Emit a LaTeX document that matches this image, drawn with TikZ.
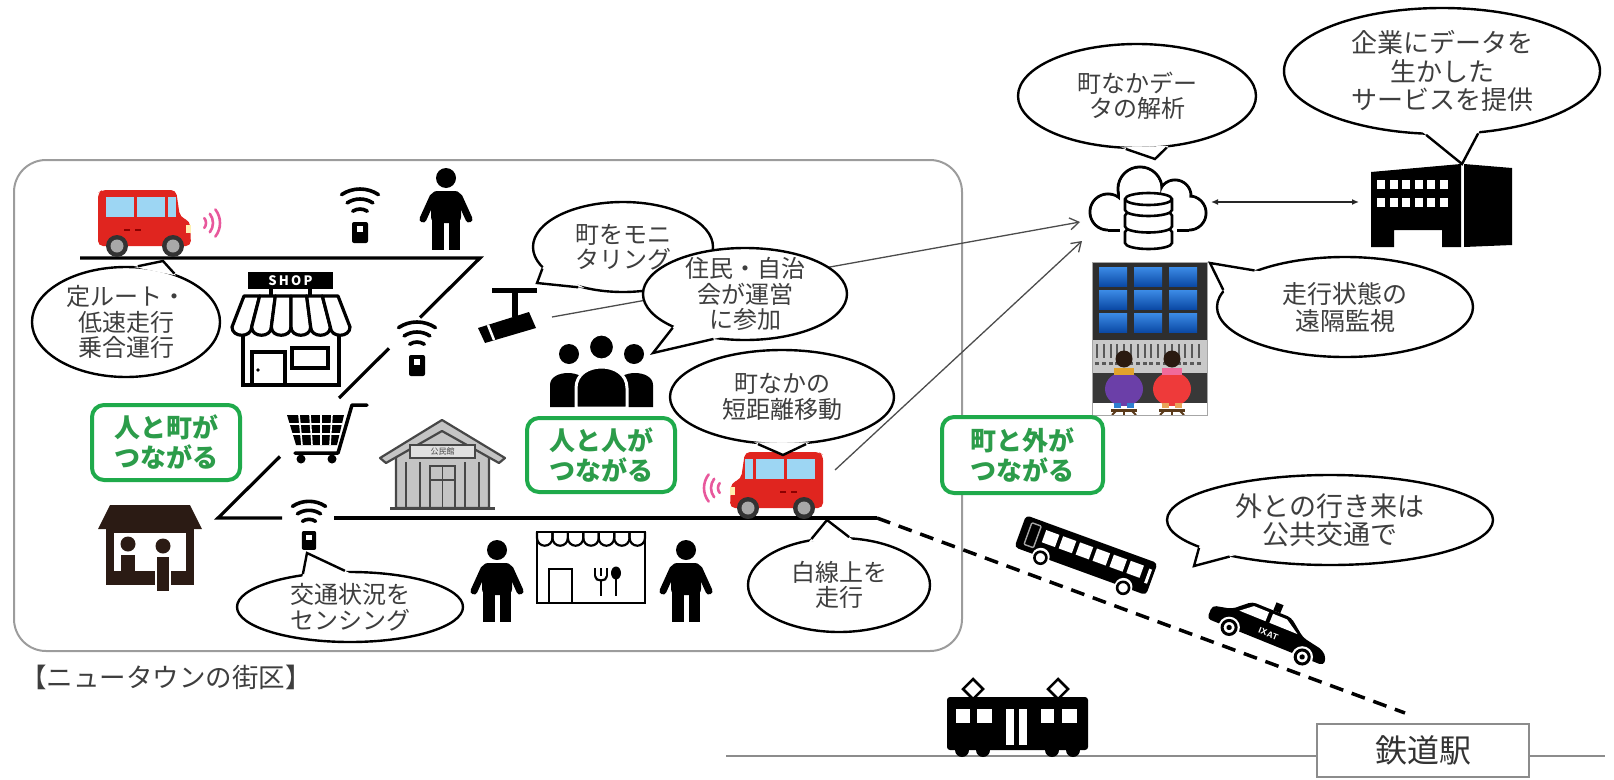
\documentclass[tikz,border=0pt]{standalone}
\usepackage{fontspec}
\newfontfamily\jp{Noto Sans CJK JP}
\usetikzlibrary{shapes.geometric,calc,arrows.meta}

\definecolor{vanred}{HTML}{E0251F}
\definecolor{winblue}{HTML}{9DD6F3}
\definecolor{headlamp}{HTML}{FFF0B0}
\definecolor{wheeldark}{HTML}{333333}
\definecolor{wheelgray}{HTML}{A8A8A8}
\definecolor{wavepink}{HTML}{E8589C}
\definecolor{framegray}{HTML}{9C9C9C}
\definecolor{txt}{HTML}{3E3E3E}
\definecolor{tgreen}{HTML}{1FAA4B}
\definecolor{tgreentext}{HTML}{2C9C4A}
\definecolor{hallgray}{HTML}{C4C4C4}
\definecolor{halldark}{HTML}{474747}
\definecolor{housebrown}{HTML}{2B1B14}
\definecolor{panel}{HTML}{2E2E2E}
\definecolor{scrtop}{HTML}{3C8BE6}
\definecolor{scrbot}{HTML}{0B4AA6}
\definecolor{console}{HTML}{C9C9C9}
\definecolor{opurple}{HTML}{6B3FA8}
\definecolor{ored}{HTML}{EE3A3A}
\definecolor{hair}{HTML}{2A1A10}
\definecolor{collarA}{HTML}{E2A22C}
\definecolor{collarB}{HTML}{F06A9A}
\definecolor{legblue}{HTML}{2F7FD0}
\definecolor{legtan}{HTML}{E8A55A}
\definecolor{stoolbrown}{HTML}{5A3A1A}
\definecolor{railgray}{HTML}{8C8C8C}

% speech-bubble tail: node, two border angles, tip coordinate
\newcommand\calloutTail[4]{%
  \fill[white] ($(#4)!1.15!(#1.#2)$) -- (#4) -- ($(#4)!1.15!(#1.#3)$) -- cycle;
  \draw[tailline] (#1.#2) -- (#4) -- (#1.#3);
}

\tikzset{
  road/.style={line width=3.2pt, line join=miter},
  feed/.style={draw=black!70, line width=1.3pt, -{Straight Barb[length=9pt,width=12pt]}},
  bubble/.style={ellipse, draw=black, fill=white, line width=2.4pt, inner sep=-12pt,
    align=center, text=txt, font=\jp\fontsize{24}{25.5}\selectfont},
  tailline/.style={line width=2.4pt, line join=miter},
  tag/.style={rectangle, rounded corners=12pt, draw=tgreen, line width=4pt, fill=white,
    inner sep=0pt, align=center, text=tgreentext, font=\jp\bfseries\fontsize{26}{30}\selectfont},
  % small red minibus, facing right, origin at top-left
  minivan/.pic={
    \fill[vanred, rounded corners=5pt] (0,56) -- (0,3) -- (4,0) -- (78,0) -- (82,27) -- (92,31) -- (93,56) -- cycle;
    \fill[winblue] (8,7) rectangle (36,27);
    \fill[winblue] (39,7) rectangle (67,27);
    \fill[winblue] (70,7) rectangle (78,27);
    \fill[headlamp] (88,35) rectangle (93,43);
    \draw[red!55!black, line width=1.2pt] (26,40) -- (32,40) (37,40) -- (43,40);
    \foreach \w in {19,75} {
      \fill[wheeldark] (\w,56) circle (11);
      \fill[wheelgray] (\w,56) circle (6.5);
    }
  },
  signalwaves/.pic={
    \foreach \rad in {8,15,22}
      \draw[wavepink, line width=2.6pt, line cap=round] (38:\rad) arc[start angle=38, end angle=-38, radius=\rad];
  },
  % roadside sensor, origin at top centre of its box
  wifiunit/.pic={
    \foreach \rad in {13,23,33}
      \draw[line width=3.6pt, line cap=round] (-124:\rad) arc[start angle=-124, end angle=-56, radius=\rad];
    \fill[rounded corners=2pt] (-8,0) rectangle (8,21);
    \fill[white] (-3,4) rectangle (3,10);
  },
  % pedestrian, origin at top of head
  walker/.pic={
    \fill (0,10) circle (10);
    \fill[rounded corners=6pt] (-15,23) rectangle (15,55);
    \draw[line width=7pt, line cap=round] (-13,29) -- (-23,51);
    \draw[line width=7pt, line cap=round] (13,29) -- (23,51);
    \fill (-14,50) rectangle (-2.5,82);
    \fill (2.5,50) rectangle (14,82);
  },
  shopfront/.pic={
    \fill (18,2) rectangle (103,19);
    \node[text=white, font=\jp\bfseries\fontsize{13}{13}\selectfont, inner sep=0pt] (-sign) at (60.5,10.5) {S\,H\,O\,P};
    \fill (39,19) rectangle (43,27);
    \fill (78,19) rectangle (82,27);
    \foreach \i in {0,...,5} {
      \pgfmathsetmacro\tl{14+\i*15.667}
      \pgfmathsetmacro\tr{14+(\i+1)*15.667}
      \pgfmathsetmacro\bl{2+\i*19.667}
      \pgfmathsetmacro\br{2+(\i+1)*19.667}
      \draw[line width=3.2pt, line join=round, fill=white] (\tl,26) -- (\bl,57) .. controls (\bl,68) and (\br,68) .. (\br,57) -- (\tr,26) -- cycle;
    }
    \draw[line width=3.2pt] (13,66) -- (13,115) -- (109,115) -- (109,66);
    \draw[line width=3.2pt] (22,115) -- (22,82) -- (55,82) -- (55,115);
    \fill (28,100) circle (1.8);
    \draw[line width=3.2pt] (62,78) rectangle (98,98);
  },
  cctv/.pic={
    \fill (17,0) rectangle (62,5);
    \fill (37,4) rectangle (43,29);
    \fill (3,40) -- (54,24) -- (61,40) -- (10,55) -- cycle;
    \draw[white, line width=2.5pt] (13,37) -- (19,52);
  },
  crowd/.pic={
    \fill (19,21) circle (10);
    \fill (84,21) circle (10);
    \fill (0,74) -- (0,52) .. controls (0,36) and (36,36) .. (36,52) -- (36,74) -- cycle;
    \fill (67,74) -- (67,52) .. controls (67,36) and (103,36) .. (103,52) -- (103,74) -- cycle;
    \filldraw[draw=white, line width=3pt] (26,75) -- (26,55) .. controls (26,27) and (77,27) .. (77,55) -- (77,75) -- cycle;
    \filldraw[draw=white, line width=3pt] (51.5,14) circle (13);
  },
  trolley/.pic={
    \fill (0,12) -- (57,12) -- (50,42) -- (9,42) -- cycle;
    \draw[white, line width=1.6pt] (2,21) -- (55,21) (4,31) -- (53,31) (12,12) -- (15,42) (23,12) -- (25,42) (34,12) -- (34,42) (45,12) -- (43,42);
    \draw[line width=3.5pt, line cap=round, line join=round] (80,2) -- (65,2) -- (51,50) -- (8,50);
    \fill (14,56) circle (4.5);
    \fill (45,56) circle (4.5);
  },
  hallbldg/.pic={
    \filldraw[fill=hallgray, draw=halldark, line width=2.2pt, line join=round] (16,90) -- (16,38) -- (62,12) -- (109,38) -- (109,90) -- cycle;
    \filldraw[fill=hallgray, draw=halldark, line width=2.2pt, line join=round] (0,40) -- (62,2) -- (125,40) -- (119,45) -- (62,13) -- (6,45) -- cycle;
    \filldraw[fill=black!12, draw=halldark, line width=1.5pt] (30,27) rectangle (95,40);
    \node[text=halldark, font=\jp\fontsize{8}{8}\selectfont, inner sep=0pt] (-sign) at (62.5,33.5) {公民館};
    \foreach \x in {26,40,85,99} \draw[halldark, line width=1.6pt] (\x,44) -- (\x,90);
    \draw[halldark, line width=1.6pt] (50,48) rectangle (75,90);
    \draw[halldark, line width=1.4pt] (62.5,48) -- (62.5,90) (50,62) -- (75,62);
    \draw[halldark, line width=3pt] (10,90) -- (115,90);
  },
  stallhouse/.pic={
    \fill[housebrown] (12,0) -- (92,0) -- (104,24) -- (0,24) -- cycle;
    \fill[housebrown] (8,24) rectangle (96,80);
    \fill[white] (16,28) rectangle (88,66);
    \fill[housebrown] (30,39) circle (7.5);
    \fill[housebrown] (65,41) circle (7.5);
    \fill[housebrown] (23,50) rectangle (37,66);
    \filldraw[fill=housebrown, draw=white, line width=2pt] (58,51) rectangle (72,87);
  },
  eatery/.pic={
    \draw[line width=2.6pt] (0,0) rectangle (108,71);
    \foreach \i in {0,...,6}
      \draw[line width=2.2pt] ({\i*15.43},0) -- ({\i*15.43},6) arc[start angle=180, end angle=0, radius=7.715] -- ({(\i+1)*15.43},0);
    \draw[line width=2.6pt] (12,71) -- (12,37) -- (35,37) -- (35,71);
    \draw[line width=2.2pt] (58,36) -- (58,44) (64,36) -- (64,44) (70,36) -- (70,44);
    \draw[line width=2.2pt] (58,44) .. controls (58,50) and (70,50) .. (70,44);
    \draw[line width=2.6pt] (64,48) -- (64,64);
    \fill (79,41) ellipse [x radius=5, y radius=6.5];
    \draw[line width=2.6pt] (79,45) -- (79,64);
  },
  % bus facing left, origin at its centre
  coach/.pic={
    \fill[rounded corners=4pt] (-70,-20) rectangle (70,14);
    \draw[black!35, line width=1.4pt, rounded corners=1pt] (-62,-15) rectangle (-52,8);
    \foreach \i in {0,...,5} \fill[white] ({-46+\i*18},-13) rectangle +(14,13);
    \fill[white] (64,-12) rectangle (67,3);
    \foreach \w in {-42,46} {
      \fill[white] (\w,14) circle (9);
      \filldraw[fill=white, draw=black, line width=2.6pt] (\w,15) circle (6);
    }
  },
  % taxi facing right, origin at its centre
  cab/.pic={
    \fill (-4,-26) rectangle (3,-18);
    \fill[rounded corners=4pt] (-58,12) -- (-58,-1) -- (-40,-5) -- (-25,-18) -- (14,-18) -- (31,-5) -- (52,-1) -- (58,5) -- (58,12) -- cycle;
    \fill[white] (-33,-6) -- (-22,-15) -- (-7,-15) -- (-7,-6) -- cycle;
    \fill[white] (-3,-6) -- (-3,-15) -- (11,-15) -- (25,-6) -- cycle;
    \node[transform shape, text=white, font=\sffamily\bfseries\fontsize{8}{8}\selectfont, inner sep=0pt] (-mark) at (0,4) {IXAT};
    \foreach \w in {-36,37} {
      \fill[white] (\w,12) circle (10);
      \filldraw[fill=white, draw=black, line width=3pt] (\w,12) circle (6.5);
      \fill (\w,12) circle (2.5);
    }
  },
}

\begin{document}
\begin{tikzpicture}[x=1pt, y=-1pt]
\useasboundingbox (0,0) rectangle (1614,779);

% ---------- the new-town block
\node[draw=framegray, line width=2pt, rounded corners=32pt, minimum width=948pt,
      minimum height=491pt, inner sep=0pt] (town) at (488,405.5) {};
\node[anchor=west, text=txt, font=\jp\fontsize{26.5}{26.5}\selectfont, inner sep=0pt] (caption) at (20,677) {【ニュータウンの街区】};

% ---------- roads
\coordinate (rdA) at (80,258);
\coordinate (rdB) at (480,258);
\coordinate (rdC) at (420,317.5);
\coordinate (rdD) at (389,348.3);
\coordinate (rdE) at (339,398);
\coordinate (rdF) at (280,456.5);
\coordinate (rdG) at (218,518);
\coordinate (rdH) at (282,518);
\coordinate (rdI) at (334,518);
\coordinate (rdJ) at (877,518);
\coordinate (rdK) at (1405,713);
\draw[road] (rdA) -- (rdB) -- (rdC);
\draw[road] (rdD) -- (rdE);
\draw[road] (rdF) -- (rdG) -- (rdH);
\draw[road] (rdI) -- (rdJ);
\draw[line width=3.5pt, dash pattern=on 14pt off 9pt] (rdJ) -- (rdK);

% ---------- railway and station
\node[draw=railgray, line width=1.6pt, fill=white, minimum width=212pt, minimum height=53pt,
      inner sep=0pt, text=black!80, font=\jp\fontsize{32}{32}\selectfont] (station) at (1423,750.5) {鉄道駅};
\coordinate (railL) at (726,756);
\coordinate (railR) at (1605,756);
\draw[railgray, line width=1.8pt] (railL) -- (railL -| station.west);
\draw[railgray, line width=1.8pt] (railR -| station.east) -- (railR);

% ---------- data links towards the cloud
\coordinate (cloudInA) at (1080,222);
\coordinate (cloudInB) at (1082,241);
\coordinate (camOut) at (552,317);
\coordinate (carOut) at (835,470);
\draw[feed] (camOut) -- (cloudInA);
\draw[feed] (carOut) -- (cloudInB);

% ---------- icons inside the block
\pic (carA) at (98,190) {minivan};
\pic (wavesA) at (198,223) {signalwaves};
\pic[xscale=-1] (carB) at (823,452) {minivan};
\pic[xscale=-1] (wavesB) at (726,488) {signalwaves};
\pic (wifiTop) at (360,222) {wifiunit};
\pic (wifiMid) at (417,355) {wifiunit};
\pic[scale=0.9] (wifiLow) at (309,531) {wifiunit};
\pic (walkerTop) at (446,168) {walker};
\pic (walkerL) at (497,540) {walker};
\pic (walkerR) at (686,540) {walker};
\pic (shop) at (230,270) {shopfront};
\pic (camera) at (475,288) {cctv};
\pic (residents) at (550,333) {crowd};
\pic (cart) at (287,403) {trolley};
\pic (hall) at (380,418) {hallbldg};
\pic (stall) at (98,505) {stallhouse};
\pic (diner) at (537,532) {eatery};

% ---------- outside: bus, taxi, train
\pic[rotate=-20] (bus) at (1085,558) {coach};
\pic[rotate=-22, scale=1.08] (taxi) at (1270,630) {cab};
\coordinate (train) at (1017,720);
\draw[line width=2.5pt, line join=miter] (973,679) -- (983,689) -- (973,699) -- (963,689) -- cycle;
\draw[line width=2.5pt, line join=miter] (1058,679) -- (1068,689) -- (1058,699) -- (1048,689) -- cycle;
\fill[rounded corners=3pt] (947,697) rectangle (1088,750);
\fill[white] (956,709) rectangle (970,723);
\fill[white] (977,709) rectangle (992,723);
\fill[white] (1041,709) rectangle (1054,723);
\fill[white] (1062,709) rectangle (1077,723);
\fill[white] (1006,709) rectangle (1014,745);
\fill[white] (1019,709) rectangle (1027,745);
\foreach \x in {962,983,1052,1073} \fill (\x,750) circle (7);

% ---------- cloud with database
\coordinate (cloud) at (1148,205);
\foreach \cx/\cy/\rad in {1108/212/18, 1140/189/22, 1175/196/16, 1189/213/17}
  \draw[line width=3pt] (\cx,\cy) circle[radius=\rad];
\draw[line width=3pt] (1108,230) -- (1189,230);
\foreach \cx/\cy/\rad in {1108/212/18, 1140/189/22, 1175/196/16, 1189/213/17}
  \fill[white] (\cx,\cy) circle[radius=\rad-1.5];
\fill[white] (1108,205) rectangle (1189,228.5);
\fill[white] (1120,193) rectangle (1177,256);
\foreach \k in {2,1,0} {
  \pgfmathsetmacro\yy{199+\k*16.5}
  \filldraw[fill=white, line width=2.6pt] (1125,\yy) -- (1125,\yy+11)
     arc[start angle=180, end angle=0, x radius=23.5, y radius=6] -- (1172,\yy)
     arc[start angle=0, end angle=-180, x radius=23.5, y radius=6] -- cycle;
}
\draw[line width=2.6pt] (1125,199) arc[start angle=180, end angle=0, x radius=23.5, y radius=6];

% ---------- company building
\coordinate (company) at (1441,206);
\fill (1371,172) -- (1461,164) -- (1461,247) -- (1442,247) -- (1442,230) -- (1394,230) -- (1394,247) -- (1371,247) -- cycle;
\fill (1464,164) -- (1512,168) -- (1512,245) -- (1464,247) -- cycle;
\foreach \i in {0,...,5} {
  \fill[white] ({1377+\i*12.5},180) rectangle +(8,9);
  \fill[white] ({1377+\i*12.5},198) rectangle +(8,9);
}
\coordinate (cloudR) at (1211,202);
\coordinate (bldgL) at (1359,202);
\draw[{Latex[length=7pt,width=6pt]}-{Latex[length=7pt,width=6pt]}, line width=1.5pt, draw=black!85] (cloudR) -- (bldgL);

% ---------- remote monitoring room
\coordinate (monitor) at (1149.5,338);
\fill[panel] (1092,262) rectangle (1207,340);
\foreach \col in {0,1,2} \foreach \row in {0,1,2}
  \shade[top color=scrtop, bottom color=scrbot] ({1099+\col*35},{267+\row*23}) rectangle +(28,19);
\fill[console] (1092,340) rectangle (1207,373);
\foreach \i in {0,...,15} {
  \fill[black!65] ({1096+\i*6.8},344) rectangle +(2,14);
  \fill[black!65] ({1095+\i*6.8},362) rectangle +(4,2.5);
}
\fill[black!78] (1092,373) rectangle (1207,403);
\fill[white] (1092,403) rectangle (1207,415);
\fill[opurple] (1124,389) ellipse [x radius=19, y radius=17];
\fill[collarA] (1114,368) rectangle (1134,375);
\fill[hair] (1124,359) circle (8.5);
\fill[legblue] (1114,403) rectangle (1121,408);
\fill[legblue] (1127,403) rectangle (1134,408);
\fill[ored] (1172,389) ellipse [x radius=19, y radius=17];
\fill[collarB] (1162,368) rectangle (1182,375);
\fill[hair] (1172,359) circle (8.5);
\fill[legtan] (1162,403) rectangle (1169,408);
\fill[legtan] (1175,403) rectangle (1182,408);
\foreach \sx in {1124,1172} {
  \draw[stoolbrown, line width=2.5pt] (\sx-13,410.5) -- (\sx+13,410.5);
  \draw[stoolbrown, line width=1.8pt] (\sx,410) -- (\sx,415) (\sx-8,411) -- (\sx-12,415) (\sx+8,411) -- (\sx+12,415);
}
\draw[black!35, line width=0.8pt] (1092,262) rectangle (1207,415);

% ---------- speech bubbles
\node[bubble, minimum width=188pt, minimum height=110pt] (bRoute) at (126,322) {定ルート・\\低速走行\\乗合運行};
\coordinate (tRoute) at (163,261);
\calloutTail{bRoute}{78}{45}{tRoute}

\node[bubble, minimum width=180pt, minimum height=90pt] (bMoni) at (623,247) {町をモニ\\タリング};
\coordinate (tMoni) at (537,283);
\calloutTail{bMoni}{195}{222}{tMoni}

\node[bubble, minimum width=204pt, minimum height=92pt] (bJumin) at (745,294) {住民・自治\\会が運営\\に参加};
\coordinate (tJumin) at (653,353);
\calloutTail{bJumin}{205}{235}{tJumin}

\node[bubble, minimum width=224pt, minimum height=94pt] (bShort) at (782,397) {町なかの\\短距離移動};
\coordinate (tShort) at (783,455);
\calloutTail{bShort}{243}{297}{tShort}

\node[bubble, minimum width=226pt, minimum height=70pt] (bSense) at (350,607) {交通状況を\\センシング};
\coordinate (tSense) at (307,553);
\calloutTail{bSense}{145}{98}{tSense}

\node[bubble, minimum width=182pt, minimum height=94pt] (bLine) at (839,585) {白線上を\\走行};
\coordinate (tLine) at (827,520);
\calloutTail{bLine}{121}{78}{tLine}

\node[bubble, minimum width=238pt, minimum height=104pt] (bData) at (1137,96) {町なかデー\\タの解析};
\coordinate (tData) at (1155,159);
\calloutTail{bData}{258}{300}{tData}

\node[bubble, minimum width=316pt, minimum height=126pt, font=\jp\fontsize{26}{28.5}\selectfont] (bFirm) at (1442,71) {企業にデータを\\生かした\\サービスを提供};
\coordinate (tFirm) at (1462,164);
\calloutTail{bFirm}{256}{300}{tFirm}

\node[bubble, minimum width=256pt, minimum height=100pt, font=\jp\fontsize{25}{27}\selectfont] (bWatch) at (1345,307) {走行状態の\\遠隔監視};
\coordinate (tWatch) at (1210,263);
\calloutTail{bWatch}{158}{172}{tWatch}

\node[bubble, minimum width=326pt, minimum height=90pt, font=\jp\fontsize{27}{28}\selectfont] (bOut) at (1330,520) {外との行き来は\\公共交通で};
\coordinate (tOut) at (1194,566);
\calloutTail{bOut}{192}{200}{tOut}

% ---------- green headline tags
\node[tag, minimum width=148pt, minimum height=75pt] (tagA) at (166,442.5) {人と町が\\つながる};
\node[tag, minimum width=148pt, minimum height=74pt] (tagB) at (601,455) {人と人が\\つながる};
\node[tag, minimum width=161pt, minimum height=76pt] (tagC) at (1022.5,455) {町と外が\\つながる};

\end{tikzpicture}
\end{document}
